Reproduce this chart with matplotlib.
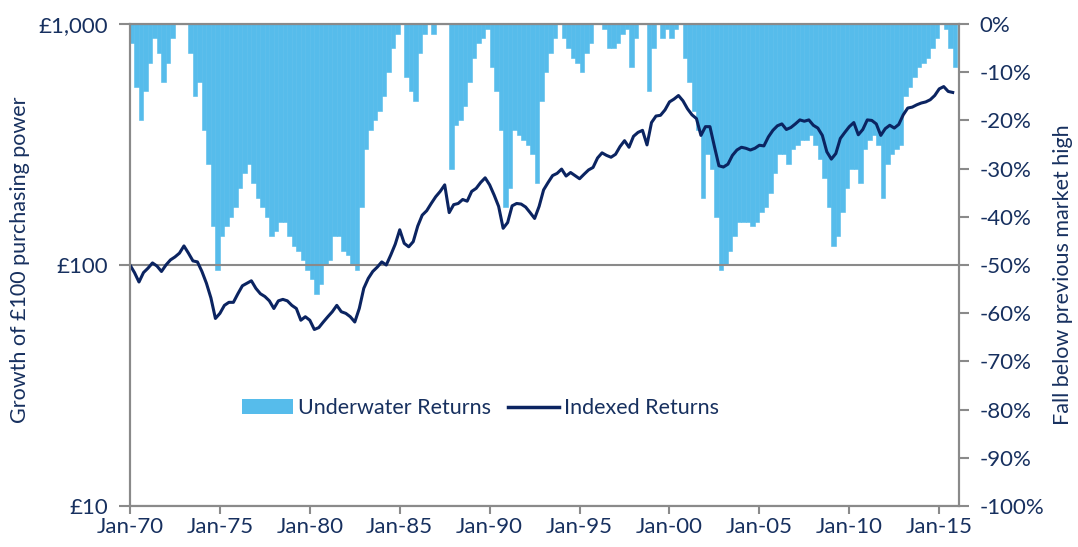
import numpy as np
import matplotlib
matplotlib.use('Agg')
import matplotlib.pyplot as plt
from matplotlib.ticker import FixedLocator, FixedFormatter, NullLocator
from matplotlib.patches import Patch
from matplotlib.lines import Line2D

plt.rcParams['font.family'] = ['Lato', 'DejaVu Sans']

# ---------------- data (quarterly, Jan-1970 .. Oct-2015) ----------------
start_year = 1970
periods_per_year = 4

indexed_returns = [
    100, 93, 85, 93,      # 1970
    97, 102, 99, 94,      # 1971
    100, 105, 108, 112,   # 1972
    120, 112, 104, 103,   # 1973
    94, 84, 73, 60,       # 1974
    63, 68, 70, 70,       # 1975
    76, 82, 84, 86,       # 1976
    80, 76, 74, 71,       # 1977
    66, 71, 72, 71,       # 1978
    68, 66, 59, 61,       # 1979
    59, 54, 55, 58,       # 1980
    61, 64, 68, 64,       # 1981
    63, 61, 58, 66,       # 1982
    80, 88, 94, 98,       # 1983
    103, 100, 110, 122,   # 1984
    140, 123, 119, 125,   # 1985
    145, 161, 168, 180,   # 1986
    192, 202, 215, 165,   # 1987
    178, 180, 187, 184,   # 1988
    202, 208, 220, 230,   # 1989
    215, 195, 175, 142,   # 1990
    150, 176, 180, 179,   # 1991
    174, 165, 156, 175,   # 1992
    205, 220, 235, 240,   # 1993
    250, 234, 242, 235,   # 1994
    228, 238, 248, 254,   # 1995
    278, 292, 285, 280,   # 1996
    288, 310, 328, 308,   # 1997
    342, 355, 362, 315,   # 1998
    390, 415, 418, 440,   # 1999
    475, 488, 505, 480,   # 2000
    445, 420, 405, 345,   # 2001
    375, 375, 310, 258,   # 2002
    255, 262, 285, 300,   # 2003
    308, 305, 300, 305,   # 2004
    314, 312, 340, 362,   # 2005
    378, 385, 365, 372,   # 2006
    385, 400, 395, 400,   # 2007
    380, 370, 345, 295,   # 2008
    275, 290, 335, 355,   # 2009
    375, 390, 347, 365,   # 2010
    400, 398, 385, 345,   # 2011
    368, 380, 370, 383,   # 2012
    420, 448, 452, 462,   # 2013
    470, 475, 485, 505,   # 2014
    538, 550, 525, 520,   # 2015
]

underwater_returns = [
    -4, -13, -20, -14,    # 1970
    -8, -3, -6, -12,      # 1971
    -8, -3, 0, 0,         # 1972
    0, -6, -15, -12,      # 1973
    -22, -29, -42, -51,   # 1974
    -44, -42, -40, -38,   # 1975
    -34, -31, -29, -33,   # 1976
    -36, -38, -40, -44,   # 1977
    -43, -41, -41, -44,   # 1978
    -46, -47, -49, -51,   # 1979
    -53, -56, -54, -50,   # 1980
    -49, -44, -44, -47,   # 1981
    -48, -50, -51, -38,   # 1982
    -26, -22, -20, -18,   # 1983
    -15, -10, -5, -2,     # 1984
    0, -11, -14, -16,     # 1985
    -6, -2, 0, -2,        # 1986
    0, 0, 0, -30,         # 1987
    -21, -20, -17, -12,   # 1988
    -7, -4, -3, -1,       # 1989
    -9, -14, -22, -38,    # 1990
    -34, -22, -23, -24,   # 1991
    -25, -27, -33, -16,   # 1992
    -10, -6, -3, 0,       # 1993
    -3, -5, -7, -8,       # 1994
    -10, -6, -4, 0,       # 1995
    0, -1, -5, -5,        # 1996
    -4, -2, -1, -9,       # 1997
    -3, 0, 0, -14,        # 1998
    -5, 0, -3, -1,        # 1999
    -3, -1, 0, -7,        # 2000
    -12, -18, -22, -36,   # 2001
    -27, -30, -40, -51,   # 2002
    -50, -47, -44, -41,   # 2003
    -41, -41, -42, -41,   # 2004
    -39, -38, -35, -31,   # 2005
    -27, -27, -29, -26,   # 2006
    -25, -24, -24, -23,   # 2007
    -25, -28, -32, -38,   # 2008
    -46, -44, -39, -34,   # 2009
    -30, -30, -33, -26,   # 2010
    -24, -23, -25, -36,   # 2011
    -29, -27, -26, -25,   # 2012
    -15, -13, -11, -9,    # 2013
    -8, -7, -5, -3,       # 2014
    0, -1, -5, -9,        # 2015
]

x_tick_years = [1970, 1975, 1980, 1985, 1990, 1995, 2000, 2005, 2010, 2015]
x_tick_labels = ['Jan-70', 'Jan-75', 'Jan-80', 'Jan-85', 'Jan-90',
                 'Jan-95', 'Jan-00', 'Jan-05', 'Jan-10', 'Jan-15']
left_ticks = [10, 100, 1000]
left_tick_labels = ['£10', '£100', '£1,000']
right_ticks = [0, -10, -20, -30, -40, -50, -60, -70, -80, -90, -100]
right_tick_labels = ['0%', '-10%', '-20%', '-30%', '-40%', '-50%',
                     '-60%', '-70%', '-80%', '-90%', '-100%']
series_names = ['Underwater Returns', 'Indexed Returns']

# ---------------- styling ----------------
NAVY = '#0B2461'
TEXT = '#17305F'
BLUE = '#56BCEB'
GREY = '#8A8A8A'
FS = 16

t = start_year + np.arange(len(indexed_returns)) / periods_per_year
bar_w = 1.0 / periods_per_year

fig = plt.figure(figsize=(10.78, 5.47), dpi=100)
ax1 = fig.add_axes([130 / 1078, 1 - 506 / 547, 829 / 1078, 482 / 547])
ax2 = ax1.twinx()
ax1.set_zorder(ax2.get_zorder() + 1)
ax1.patch.set_visible(False)

ax2.bar(t, underwater_returns, width=bar_w, align='edge', color=BLUE,
        edgecolor=BLUE, linewidth=0.4)
ax1.plot(t, indexed_returns, color=NAVY, lw=2.2, solid_joinstyle='round')

ax1.set_yscale('log')
ax1.set_ylim(10, 1000)
ax2.set_ylim(-100, 0)
ax1.set_xlim(1970, 2016.1)

ax1.yaxis.set_major_locator(FixedLocator(left_ticks))
ax1.yaxis.set_major_formatter(FixedFormatter(left_tick_labels))
ax1.yaxis.set_minor_locator(NullLocator())
ax1.xaxis.set_major_locator(FixedLocator(x_tick_years))
ax1.xaxis.set_major_formatter(FixedFormatter(x_tick_labels))
ax2.yaxis.set_major_locator(FixedLocator(right_ticks))
ax2.yaxis.set_major_formatter(FixedFormatter(right_tick_labels))

ax1.grid(axis='y', which='major', color=GREY, lw=1.5)
ax1.grid(axis='x', visible=False)

for ax in (ax1, ax2):
    for s in ax.spines.values():
        s.set_color(GREY)
        s.set_linewidth(1.5)

ax1.tick_params(axis='y', direction='out', length=8, width=1.5, color=GREY,
                labelcolor=TEXT, labelsize=FS, pad=8)
ax1.tick_params(axis='x', direction='out', length=6, width=1.5, color=GREY,
                labelcolor=TEXT, labelsize=FS, pad=2)
ax2.tick_params(axis='y', direction='out', length=7, width=1.5, color=GREY,
                labelcolor=TEXT, labelsize=FS, pad=8)

ax1.set_ylabel('Growth of £100 purchasing power', color=TEXT, fontsize=15.5)
ax1.yaxis.set_label_coords(-0.121, 0.51)
ax2.set_ylabel('Fall below previous market high', color=TEXT, fontsize=15.5)
ax2.yaxis.set_label_coords(1.1135, 0.48)

handles = [Patch(facecolor=BLUE, edgecolor='none'),
           Line2D([], [], color=NAVY, lw=2.5)]
ax1.legend(handles, series_names, loc='center', bbox_to_anchor=(0.4228, 0.203),
           ncol=2, frameon=False, fontsize=15.5, handlelength=2.35,
           handletextpad=0.25, columnspacing=0.8, labelcolor=TEXT)

fig.savefig('out.png', dpi=100)
